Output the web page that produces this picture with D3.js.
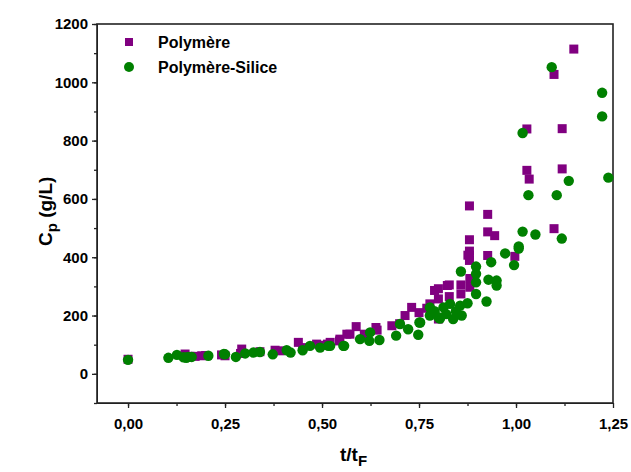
<!DOCTYPE html>
<html>
<head>
<meta charset="utf-8">
<script src="https://cdn.jsdelivr.net/npm/d3@7"></script>
<style>
  body { margin: 0; background: #fff; }
  svg text { font-family: "Liberation Sans", Arial, sans-serif; font-weight: bold; fill: #000; }
  .axis path, .axis line { stroke: #222; }
</style>
</head>
<body>
<div id="chart"></div>
<script>
// Polymère (squares): t/tF and Cp (g/L)
const polyT = [0, 0.147, 0.16, 0.173, 0.19, 0.2, 0.241, 0.25, 0.29, 0.293, 0.34, 0.379, 0.392, 0.439, 0.45,
  0.486, 0.5, 0.514, 0.521, 0.545, 0.546, 0.564, 0.572, 0.588, 0.609, 0.639, 0.642, 0.68, 0.70, 0.714, 0.731,
  0.75, 0.77, 0.778, 0.79, 0.80, 0.80, 0.80, 0.823, 0.828, 0.828, 0.858, 0.858, 0.876, 0.88, 0.88, 0.88, 0.88,
  0.88, 0.881, 0.881, 0.927, 0.927, 0.927, 0.945, 0.997, 1.028, 1.028, 1.034, 1.098, 1.098, 1.119, 1.119, 1.149];
const polyCp = [50, 68, 60, 60, 62, 63, 65, 62, 70, 85, 76, 81, 79, 108, 90,
  102, 98, 102, 108, 113, 119, 136, 136, 162, 136, 159, 150, 165, 172, 200, 228,
  210, 225, 240, 286, 257, 292, 188, 303, 265, 305, 305, 274, 407, 576, 460, 421, 406,
  389, 327, 297, 547, 487, 406, 474, 403, 840, 698, 668, 1027, 498, 841, 703, 1114];

// Polymère-Silice (circles)
const silT = [0, 0.104, 0.126, 0.143, 0.15, 0.155, 0.164, 0.207, 0.247, 0.25, 0.278, 0.302, 0.323, 0.34,
  0.373, 0.409, 0.419, 0.45, 0.469, 0.495, 0.516, 0.521, 0.555, 0.557, 0.598, 0.622, 0.624, 0.648, 0.691,
  0.701, 0.722, 0.748, 0.751, 0.753, 0.778, 0.778, 0.79, 0.80, 0.804, 0.813, 0.82, 0.83, 0.838, 0.845,
  0.856, 0.858, 0.86, 0.875, 0.897, 0.897, 0.897, 0.897, 0.924, 0.929, 0.936, 0.950, 0.950, 0.972, 0.995,
  1.007, 1.007, 1.017, 1.017, 1.032, 1.050, 1.092, 1.105, 1.118, 1.136, 1.222, 1.222, 1.238];
const silCp = [48, 55, 65, 57, 55, 58, 58, 62, 68, 67, 58, 70, 73, 75,
  67, 81, 73, 81, 96, 90, 96, 96, 96, 96, 119, 113, 142, 116, 131,
  171, 153, 134, 176, 176, 228, 200, 215, 194, 190, 228, 205, 240, 188, 215,
  234, 351, 200, 242, 368, 343, 314, 274, 248, 323, 383, 320, 303, 413, 373,
  437, 430, 826, 488, 613, 478, 1052, 613, 464, 662, 964, 883, 673];

const xTicks = [0, 0.25, 0.5, 0.75, 1.0, 1.25];
const yTicks = [0, 200, 400, 600, 800, 1000, 1200];
const seriesNames = ["Polymère", "Polymère-Silice"];

const width = 631, height = 472;
const margin = { top: 24, right: 18, bottom: 69, left: 97 };

const svg = d3.select("#chart").append("svg")
  .attr("width", width)
  .attr("height", height);

const x = d3.scaleLinear().domain([-0.08, 1.25]).range([margin.left, width - margin.right]);
const y = d3.scaleLinear().domain([-100, 1200]).range([height - margin.bottom, margin.top]);

const fmt = d => d3.format(".2f")(d).replace(".", ",");

// minor ticks
const xMinor = d3.range(-0.125, 1.25, 0.125).filter(v => v > -0.08);
const yMinor = d3.range(-100, 1201, 100);

svg.append("g")
  .attr("class", "axis")
  .attr("transform", `translate(0,${y.range()[0]})`)
  .call(d3.axisBottom(x).tickValues(xMinor).tickSize(3).tickFormat(""))
  .call(g => g.select(".domain").remove());

svg.append("g")
  .attr("class", "axis")
  .attr("transform", `translate(${x.range()[0]},0)`)
  .call(d3.axisLeft(y).tickValues(yMinor).tickSize(3).tickFormat(""))
  .call(g => g.select(".domain").remove());

const xAxis = svg.append("g")
  .attr("class", "axis")
  .attr("transform", `translate(0,${y.range()[0]})`)
  .call(d3.axisBottom(x).tickValues(xTicks).tickSize(5).tickSizeOuter(0).tickPadding(10).tickFormat(fmt));
xAxis.selectAll("text").style("font-size", "15px");

const yAxis = svg.append("g")
  .attr("class", "axis")
  .attr("transform", `translate(${x.range()[0]},0)`)
  .call(d3.axisLeft(y).tickValues(yTicks).tickSize(5).tickSizeOuter(0).tickPadding(4).tickFormat(d3.format("d")));
yAxis.selectAll("text").style("font-size", "15px");
svg.selectAll(".axis line").attr("stroke-width", 1.3);

// frame
svg.append("rect")
  .attr("x", x.range()[0])
  .attr("y", y.range()[1])
  .attr("width", x.range()[1] - x.range()[0])
  .attr("height", y.range()[0] - y.range()[1])
  .attr("fill", "none")
  .attr("stroke", "#222")
  .attr("stroke-width", 1.6);

// points
const polyData = polyT.map((t, i) => ({ t: t, cp: polyCp[i] }));
const silData = silT.map((t, i) => ({ t: t, cp: silCp[i] }));

svg.append("g").selectAll("rect")
  .data(polyData)
  .enter().append("rect")
  .attr("x", d => x(d.t) - 4.5)
  .attr("y", d => y(d.cp) - 4.5)
  .attr("width", 9)
  .attr("height", 9)
  .attr("fill", "#800080");

svg.append("g").selectAll("circle")
  .data(silData)
  .enter().append("circle")
  .attr("cx", d => x(d.t))
  .attr("cy", d => y(d.cp))
  .attr("r", 5.2)
  .attr("fill", "#008000");

// legend
const legend = svg.append("g").attr("transform", "translate(129,42)");
legend.append("rect")
  .attr("x", -4).attr("y", -4).attr("width", 8).attr("height", 8)
  .attr("fill", "#800080");
legend.append("circle")
  .attr("cx", 0).attr("cy", 25).attr("r", 5)
  .attr("fill", "#008000");
legend.selectAll("text")
  .data(seriesNames)
  .enter().append("text")
  .attr("x", 29)
  .attr("y", (d, i) => i * 25 + 6)
  .style("font-size", "16px")
  .text(d => d);

// axis titles
const xt = svg.append("text")
  .attr("x", 340)
  .attr("y", 461)
  .style("font-size", "19px");
xt.append("tspan").text("t/t");
xt.append("tspan").attr("dy", 5).style("font-size", "15px").text("F");

const yt = svg.append("text")
  .attr("transform", "translate(52,246) rotate(-90)")
  .style("font-size", "19px");
yt.append("tspan").text("C");
yt.append("tspan").attr("dy", 5).style("font-size", "15px").text("p");
yt.append("tspan").attr("dy", -5).text(" (g/L)");
</script>
</body>
</html>
